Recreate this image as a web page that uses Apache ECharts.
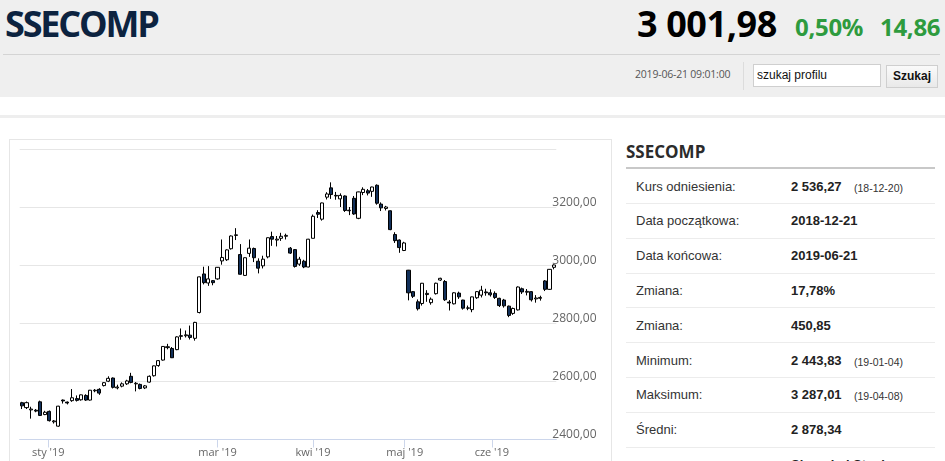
<!DOCTYPE html>
<html><head><meta charset="utf-8">
<script src="https://cdn.jsdelivr.net/npm/echarts@6/dist/echarts.min.js"></script>
<style>
html,body{margin:0;padding:0;width:945px;height:461px;overflow:hidden;background:#fff;font-family:"Liberation Sans",Arial,sans-serif;}
.a{position:absolute;white-space:nowrap;}
#hdr{position:absolute;left:0;top:0;width:945px;height:97px;background:#efefef;}
#title{left:5px;top:6px;font:700 36px/36px "Open Sans";letter-spacing:-2.2px;color:#0c2340;}
#price{left:637px;top:6px;font:700 36px/36px "Open Sans";letter-spacing:-0.4px;color:#000;}
#pct{left:795px;top:15px;font:700 24px/24px "Open Sans";color:#2e9b3e;letter-spacing:-0.3px;}
#chg{left:880px;top:15px;font:700 24px/24px "Open Sans";color:#2e9b3e;letter-spacing:-0.3px;}
#hr1{left:3px;top:54px;width:937px;height:1px;background:#d4d4d4;}
#ts{left:635px;top:67px;font:400 10.5px/14px "Open Sans";color:#555;letter-spacing:-0.2px;}
#vsep{left:743px;top:62px;width:1px;height:28px;background:#dcdcdc;}
#inp{left:753px;top:64px;width:126px;height:21px;background:#fff;border:1px solid #cfcfcf;font:12px/21px "Liberation Sans",Arial;color:#111;text-indent:3px;}
#btn{left:886px;top:65px;width:50px;height:21px;background:linear-gradient(#fafafa,#e9e9e9);border:1px solid #cfcfcf;font:700 12px/21px "Liberation Sans",Arial;color:#111;text-align:center;}
#band{left:0;top:115px;width:945px;height:3px;background:#eeeeee;}
#panel{left:9px;top:139px;width:601px;height:400px;border:1px solid #e6e6e6;}
#chart{position:absolute;left:10px;top:140px;width:600px;height:321px;}
#rtitle{left:626px;top:140px;font:700 17px/24px "Open Sans";color:#2b2b2b;}
#rline{left:626px;top:167px;width:309px;height:2px;background:#c8c8c8;}
.sep{position:absolute;left:626px;width:309px;height:1px;background:#ececec;}
.lab{font:13px/16px "Liberation Sans",Arial;color:#333;}
.val{font:700 13px/16px "Liberation Sans",Arial;color:#222;}
.note{font:10.5px/16px "Liberation Sans",Arial;color:#333;}
</style></head><body>
<div id="hdr"></div>
<div class="a" id="title">SSECOMP</div>
<div class="a" id="price">3 001,98</div>
<div class="a" id="pct">0,50%</div>
<div class="a" id="chg">14,86</div>
<div class="a" id="hr1"></div>
<div class="a" id="ts">2019-06-21 09:01:00</div>
<div class="a" id="vsep"></div>
<div class="a" id="inp">szukaj profilu</div>
<div class="a" id="btn">Szukaj</div>
<div class="a" id="band"></div>
<div class="a" id="panel"></div>
<div id="chart"></div>
<div class="a" id="rtitle">SSECOMP</div>
<div class="a" id="rline"></div>
<div id="tbl"></div>
<script>
// ---- chart data ----
const dates = [
'2018-12-21','2018-12-24','2018-12-25','2018-12-26','2018-12-27','2018-12-28',
'2019-01-02','2019-01-03','2019-01-04','2019-01-07','2019-01-08','2019-01-09','2019-01-10','2019-01-11','2019-01-14','2019-01-15','2019-01-16','2019-01-17','2019-01-18','2019-01-21','2019-01-22','2019-01-23','2019-01-24','2019-01-25','2019-01-28','2019-01-29','2019-01-30','2019-01-31',
'2019-02-01','2019-02-11','2019-02-12','2019-02-13','2019-02-14','2019-02-15','2019-02-18','2019-02-19','2019-02-20','2019-02-21','2019-02-22','2019-02-25','2019-02-26','2019-02-27','2019-02-28',
'2019-03-01','2019-03-04','2019-03-05','2019-03-06','2019-03-07','2019-03-08','2019-03-11','2019-03-12','2019-03-13','2019-03-14','2019-03-15','2019-03-18','2019-03-19','2019-03-20','2019-03-21','2019-03-22','2019-03-25','2019-03-26','2019-03-27','2019-03-28','2019-03-29',
'2019-04-01','2019-04-02','2019-04-03','2019-04-04','2019-04-08','2019-04-09','2019-04-10','2019-04-11','2019-04-12','2019-04-15','2019-04-16','2019-04-17','2019-04-18','2019-04-19','2019-04-22','2019-04-23','2019-04-24','2019-04-25','2019-04-26','2019-04-29','2019-04-30',
'2019-05-06','2019-05-08','2019-05-09','2019-05-10','2019-05-13','2019-05-14','2019-05-15','2019-05-16','2019-05-17','2019-05-20','2019-05-21','2019-05-22','2019-05-23','2019-05-24','2019-05-27','2019-05-28','2019-05-29','2019-05-30','2019-05-31',
'2019-06-03','2019-06-04','2019-06-05','2019-06-06','2019-06-10','2019-06-11','2019-06-12','2019-06-13','2019-06-14','2019-06-17','2019-06-18','2019-06-19','2019-06-20','2019-06-21'];
const opens = [2527,2510,2502,2501,2530,2486,
2497,2461,2446,2536,2529,2534,2541,2537,2552,2536,2568,2573,2586,2601,2612,2578,2584,2592,2618,2592,2590,2578,
2598,2620,2655,2674,2717,2714,2710,2758,2758,2760,2749,2838,2971,2940,2948,
2954,3016,3020,3058,3104,3038,2966,3042,3059,3015,2999,3030,3100,3088,3094,3101,3060,3055,3005,3015,2995,
3094,3183,3160,3236,3268,3242,3230,3240,3191,3232,3163,3252,3258,3256,3277,3212,3197,3189,3107,3088,3052,
2984,2910,2875,2869,2900,2872,2903,2950,2945,2874,2868,2905,2881,2854,2848,2889,2898,2909,2906,
2904,2887,2881,2860,2835,2847,2920,2908,2910,2885,2887,2947,2918,2994];
const closes = [2516,2527,2505,2498,2483,2494,
2465,2464,2515,2533,2526,2544,2535,2554,2536,2570,2570,2560,2596,2611,2580,2581,2592,2602,2597,2594,2576,2585,
2618,2654,2672,2721,2720,2682,2754,2756,2761,2752,2804,2961,2941,2954,2941,
2994,3028,3054,3102,3106,2970,3027,3060,3027,2991,3022,3096,3091,3091,3101,3104,3043,2997,3022,2995,3091,
3170,3177,3216,3247,3245,3240,3242,3190,3189,3178,3254,3263,3250,3271,3215,3199,3202,3124,3086,3062,3078,
2906,2894,2851,2939,2904,2884,2939,2956,2882,2871,2906,2892,2853,2853,2892,2910,2915,2906,2899,
2890,2862,2861,2828,2852,2926,2909,2911,2882,2888,2890,2918,2987,3002];
const lows = [2505,2505,2472,2494,2481,2484,
2462,2455,2444,2524,2521,2530,2531,2534,2533,2534,2563,2554,2583,2598,2576,2573,2580,2588,2594,2566,2573,2574,
2596,2617,2651,2672,2711,2681,2708,2744,2752,2745,2741,2835,2935,2930,2932,
2951,3003,3016,3055,3088,2969,2964,3030,3012,2973,2990,3025,3068,3066,3085,3090,3040,2993,2999,2991,2994,
3094,3164,3155,3228,3230,3227,3202,3185,3174,3175,3160,3243,3242,3237,3210,3188,3190,3122,3078,3044,3050,
2880,2888,2845,2862,2875,2865,2900,2947,2878,2845,2866,2885,2848,2846,2839,2885,2890,2896,2893,
2885,2857,2855,2822,2830,2845,2902,2897,2876,2872,2879,2912,2916,2987];
const highs = [2530,2531,2513,2505,2534,2499,
2500,2467,2516,2538,2531,2574,2552,2555,2556,2571,2574,2577,2598,2618,2614,2589,2597,2606,2630,2598,2593,2588,
2621,2655,2674,2722,2730,2719,2756,2783,2776,2793,2806,2962,2996,2998,2950,
2995,3090,3056,3104,3129,3074,3028,3090,3062,3025,3034,3097,3117,3102,3113,3110,3064,3057,3030,3020,3092,
3176,3191,3217,3253,3287,3254,3249,3242,3202,3240,3255,3270,3264,3272,3280,3218,3206,3190,3115,3090,3082,
2985,2912,2883,2940,2915,2890,2941,2958,2950,2881,2908,2910,2882,2862,2893,2912,2930,2920,2918,
2911,2889,2885,2862,2855,2928,2924,2919,2912,2898,2896,2950,2988,3004];
const monthStarts = ['2019-01-01','2019-03-01','2019-04-01','2019-05-01','2019-06-01'];
const monthLabels = ["sty '19","mar '19","kwi '19","maj '19","cze '19"];
const yMin = 2400, yMax = 3400, yStep = 200;

// ---- side table text ----
const tableLabels = ['Kurs odniesienia:','Data początkowa:','Data końcowa:','Zmiana:','Zmiana:','Minimum:','Maksimum:','Średni:',''];
const tableValues = ['2 536,27','2018-12-21','2019-06-21','17,78%','450,85','2 443,83','3 287,01','2 878,34','Shanghai Stock'];
const tableNotes  = ['(18-12-20)','','','','','(19-01-04)','(19-04-08)','',''];

// build table
(function(){
  const t = document.getElementById('tbl');
  let h = '';
  for (let k = 0; k < tableLabels.length; k++) {
    const cy = 186.5 + k * 34.8;
    h += '<div class="a lab" style="left:636px;top:' + (cy - 8) + 'px">' + tableLabels[k] + '</div>';
    h += '<div class="a val" style="left:791px;top:' + (cy - 8) + 'px">' + tableValues[k] + '</div>';
    if (tableNotes[k]) h += '<div class="a note" style="left:854px;top:' + (cy - 7) + 'px">' + tableNotes[k] + '</div>';
    if (k < 8) h += '<div class="sep" style="top:' + (cy + 16.5) + 'px"></div>';
  }
  t.innerHTML = h;
})();

// month tick positions (ordinal interpolation between trading days)
function dayNum(s){ return Date.UTC(+s.slice(0,4), +s.slice(5,7)-1, +s.slice(8,10)) / 864e5; }
const monthPos = monthStarts.map(function(m){
  const t = dayNum(m);
  const k = dates.findIndex(function(d){ return dayNum(d) >= t; });
  if (k <= 0) return k;
  const a = dayNum(dates[k-1]), b = dayNum(dates[k]);
  return k - 1 + (t - a) / (b - a);
});

const candleData = dates.map(function(d, i){ return [opens[i], closes[i], lows[i], highs[i]]; });

const chart = echarts.init(document.getElementById('chart'), null, {renderer:'canvas'});
chart.setOption({
  animation: false,
  grid: {left: 9.7, right: 53.7, top: 9.6, bottom: 21.5, containLabel: false},
  xAxis: [
    {type: 'category', data: dates, show: false, boundaryGap: true, gridIndex: 0},
    {type: 'value', gridIndex: 0, position: 'bottom', min: -0.5, max: dates.length - 0.5,
     axisLine: {show: true, onZero: false, lineStyle: {color: '#ccd6eb', width: 1}},
     axisTick: {show: true, length: 8, customValues: monthPos, lineStyle: {color: '#ccd6eb'}},
     axisLabel: {show: true, customValues: monthPos, margin: 8, color: '#666', fontSize: 11, fontFamily: 'Open Sans',
       formatter: function(v){
         let best = 0, bd = 1e9;
         monthPos.forEach(function(p, j){ const dd = Math.abs(p - v); if (dd < bd) { bd = dd; best = j; } });
         return monthLabels[best];
       }},
     splitLine: {show: false}}
  ],
  yAxis: {type: 'value', position: 'right', min: yMin, max: yMax, interval: yStep,
    axisLine: {show: false}, axisTick: {show: false},
    splitLine: {show: true, lineStyle: {color: '#e6e6e6', width: 1}},
    axisLabel: {margin: -4, verticalAlign: 'bottom', lineHeight: 10, color: '#666', fontSize: 12, fontFamily: 'Open Sans',
      showMaxLabel: false, showMinLabel: true,
      formatter: function(v){ return v.toFixed(2).replace('.', ','); }}},
  series: [{
    type: 'candlestick', xAxisIndex: 0, yAxisIndex: 0, data: candleData, barWidth: '78%',
    itemStyle: {color: '#ffffff', color0: '#12305a', borderColor: '#000000', borderColor0: '#000000', borderWidth: 1}
  }]
});
</script>
</body></html>
